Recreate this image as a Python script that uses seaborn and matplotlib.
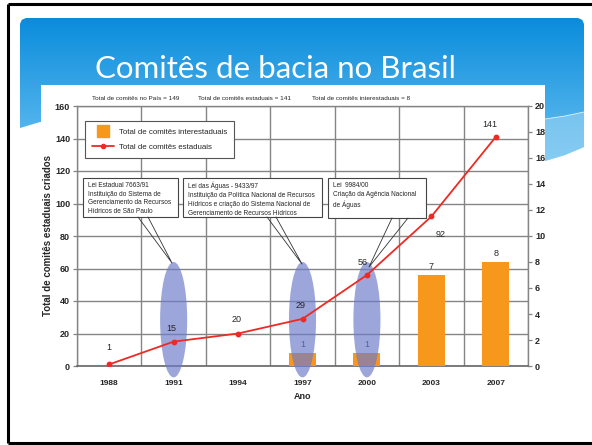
import numpy as np
import matplotlib
matplotlib.use('Agg')
import matplotlib.pyplot as plt
import seaborn as sns
from matplotlib.patches import Ellipse, Rectangle, Polygon
from matplotlib.lines import Line2D

# ---------------- data ----------------
years = ['1988', '1991', '1994', '1997', '2000', '2003', '2007']
estaduais = [1, 15, 20, 29, 56, 92, 141]
inter_years = ['1997', '2000', '2003', '2007']
interestaduais = [1, 1, 7, 8]
left_ticks = list(range(0, 161, 20))
right_ticks = list(range(0, 21, 2))
title = 'Comitês de bacia no Brasil'
summary = ['Total de comitês no País = 149',
           'Total de comitês estaduais = 141',
           'Total de comitês interestaduais = 8']
legend_labels = ['Total de comitês interestaduais', 'Total de comitês estaduais']
ylabel = 'Total de comitês estaduais criados'
xlabel = 'Ano'
callout_texts = [
    'Lei Estadual 7663/91\nInstituição do Sistema de\nGerenciamento da Recursos\nHídricos de São Paulo',
    'Lei das Águas - 9433/97\nInstituição da Política Nacional de Recursos\nHídricos e criação do Sistema Nacional de\nGerenciamento de Recursos Hídricos',
    'Lei  9984/00\nCriação da Agência Nacional\nde Águas',
]
highlight_years = ['1991', '1997', '2000']

# ---------------- style ----------------
sns.set_style('white')
plt.rcParams['font.family'] = ['Liberation Sans', 'DejaVu Sans']

W, H = 592, 445
fig = plt.figure(figsize=(W / 100, H / 100), dpi=100)
fig.patch.set_facecolor('white')

# background / slide decoration axes in pixel coordinates
bg = fig.add_axes([0, 0, 1, 1], zorder=0)
bg.set_xlim(0, W)
bg.set_ylim(H, 0)
bg.axis('off')

# black frame
bg.plot([8, 8], [4, 443], color='black', lw=2.2, solid_capstyle='butt')
bg.plot([8, 600], [4, 4], color='black', lw=2.2, solid_capstyle='butt')
bg.plot([8, 600], [443, 443], color='black', lw=2.2, solid_capstyle='butt')

# blue header with gradient
r = 6
pts = [(20, 128), (20, 18 + r), (20 + r * 0.3, 18 + r * 0.3), (20 + r, 18),
       (584 - r, 18), (584 - r * 0.3, 18 + r * 0.3), (584, 18 + r),
       (584, 147), (565, 155), (545, 161), (300, 160), (40, 122), (20, 128)]
hdr = Polygon(pts, closed=True, facecolor='none', edgecolor='none')
bg.add_patch(hdr)
grad = np.linspace(0, 1, 256).reshape(-1, 1)
c0 = np.array([0.04, 0.55, 0.86])
c1 = np.array([0.42, 0.76, 0.95])
img = c0[None, None, :] * (1 - grad[:, :, None]) + c1[None, None, :] * grad[:, :, None]
im = bg.imshow(img, extent=(20, 584, 165, 18), aspect='auto', zorder=1)
im.set_clip_path(hdr)
# lighter wave at right
bg.add_patch(Polygon([(545, 119), (565, 116), (584, 112), (584, 147), (565, 155), (545, 161)],
                     closed=True, facecolor='#9fd6f5', alpha=0.55, edgecolor='none', zorder=2))
bg.plot([545, 565, 584], [119, 116, 112], color='white', lw=0.6, alpha=0.8, zorder=2)

# white chart panel
bg.add_patch(Rectangle((41, 85), 504, 340, facecolor='white', edgecolor='none', zorder=3))

bg.text(95, 78, title, color='white', fontsize=22.5, family=['Lato', 'DejaVu Sans'],
        va='baseline', ha='left', zorder=4)

# ---------------- chart axes ----------------
L, R, T, B = 77, 528, 106, 366
rect = [L / W, 1 - B / H, (R - L) / W, (B - T) / H]
ax = fig.add_axes(rect, zorder=5)
ax.set_facecolor('none')
ax_bar = ax.twinx()
ax_line = ax.twinx()

orange = '#F7981D'
red = '#EE2A24'
grid_c = '#858585'

sns.barplot(x=inter_years, y=interestaduais, order=years, color=orange, saturation=1,
            width=0.42, linewidth=0, ax=ax_bar)
sns.pointplot(x=years, y=estaduais, order=years, color=red, markers='o',
              markersize=3.2, linewidth=1.3, errorbar=None, ax=ax_line, zorder=4)

for a in (ax, ax_bar, ax_line):
    a.set_xlim(-0.5, len(years) - 0.5)
    a.set_xlabel('')
    a.set_ylabel('')
ax.set_ylim(0, 160)
ax_line.set_ylim(0, 160)
ax_bar.set_ylim(0, 20)

# highlight ellipses
for yr in highlight_years:
    i = years.index(yr)
    ax_line.add_patch(Ellipse((i, 28.5), width=0.42, height=71, facecolor='#6d7cc9',
                              alpha=0.68, edgecolor='none', clip_on=False, zorder=2))

# grid
ax.set_yticks(left_ticks)
ax.set_yticklabels([str(v) for v in left_ticks], fontweight='bold', fontsize=6.5)
ax.set_xticks(range(len(years)))
ax.set_xticklabels(years, fontweight='bold', fontsize=6)
ax.set_xticks(np.arange(-0.5, len(years)), minor=True)
ax.tick_params(axis='x', which='major', length=0, pad=10)
ax.tick_params(axis='x', which='minor', length=3, color=grid_c, width=0.9)
ax.tick_params(axis='y', which='major', length=3, color=grid_c, width=0.9, pad=2, left=True)
ax.grid(True, axis='y', which='major', color=grid_c, lw=1.0)
ax.grid(True, axis='x', which='minor', color=grid_c, lw=1.0)
ax.set_axisbelow(True)
for s in ax.spines.values():
    s.set_color(grid_c)
    s.set_linewidth(1.0)
ax.spines['bottom'].set_color('#666666')
ax.spines['bottom'].set_linewidth(1.2)

ax_bar.set_yticks(right_ticks)
ax_bar.set_yticklabels([str(v) for v in right_ticks], fontweight='bold', fontsize=6.5)
ax_bar.tick_params(axis='y', length=3, color=grid_c, width=0.9, pad=2, right=True)
for s in ax_bar.spines.values():
    s.set_visible(False)
ax_line.yaxis.set_visible(False)
for s in ax_line.spines.values():
    s.set_visible(False)

ax.set_ylabel(ylabel, fontweight='bold', fontsize=7, labelpad=1)
ax.set_xlabel(xlabel, fontweight='bold', fontsize=6.5, labelpad=4)

# value labels (offsets in pixels -> points)
px = 0.72
est_off = [(0, 12), (-2, 9), (-2, 10), (-2, 9), (-4, 8), (9, -14), (-6, 8)]
for yr, v, (dx, dy) in zip(years, estaduais, est_off):
    ax_line.annotate(str(v), (years.index(yr), v), xytext=(dx * px, dy * px),
                     textcoords='offset points', ha='center', va='bottom' if dy > 0 else 'top',
                     fontsize=6.5, zorder=6)
for yr, v in zip(inter_years, interestaduais):
    ax_bar.annotate(str(v), (years.index(yr), v), xytext=(0, 4 * px),
                    textcoords='offset points', ha='center', va='bottom', fontsize=6.5)

# legend
handles = [Line2D([], [], marker='s', color=orange, linestyle='None', markersize=8),
           Line2D([], [], marker='o', color=red, lw=1.3, markersize=3)]
leg = ax_line.legend(handles, legend_labels, loc='upper left',
                     bbox_to_anchor=(85 / W, 1 - 121 / H), bbox_transform=fig.transFigure,
                     borderaxespad=0, fontsize=5.7, frameon=True, fancybox=False,
                     edgecolor='#555555', framealpha=1, borderpad=0.9, labelspacing=1.0,
                     handlelength=2.8, handletextpad=0.6)
leg.get_frame().set_linewidth(0.8)

# ---------------- overlay: summary text + callouts ----------------
ov = fig.add_axes([0, 0, 1, 1], zorder=10)
ov.set_xlim(0, W)
ov.set_ylim(H, 0)
ov.axis('off')
ov.patch.set_visible(False)

for x0, s in zip([92, 198, 312], summary):
    ov.text(x0, 98, s, fontsize=4.6, ha='left', va='center')

boxes = [(83, 178, 178, 217), (183, 178, 322, 217), (328, 178, 426, 218)]
bases = [(138, 148), (267, 276), (392, 408)]
tips = [(172, 263), (302, 264), (369, 267)]
for (x0, y0, x1, y1), (b0, b1), (tx, ty), txt in zip(boxes, bases, tips, callout_texts):
    ov.add_patch(Rectangle((x0, y0), x1 - x0, y1 - y0, facecolor='white',
                           edgecolor='#444444', lw=0.8))
    ov.plot([b0, tx, b1], [y1, ty, y1], color='#333333', lw=0.6)
    ov.text(x0 + 5, y0 + 4, txt, fontsize=4.7, ha='left', va='top', linespacing=1.35)

fig.savefig('out.png', dpi=100, facecolor='white')
